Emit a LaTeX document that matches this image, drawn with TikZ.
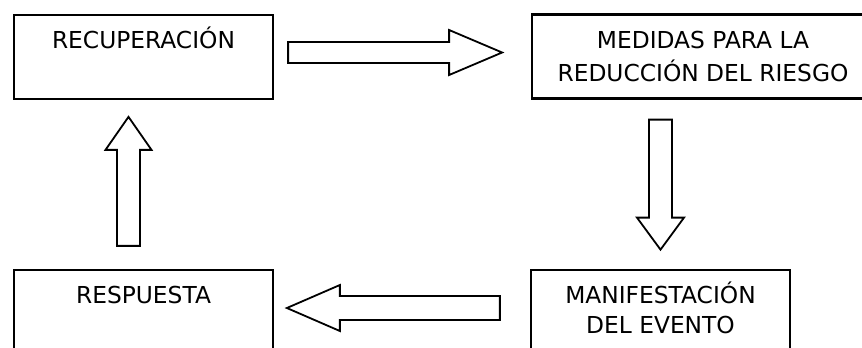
\documentclass[tikz,border=0pt]{standalone}
\usepackage{fontspec}
\setmainfont{DejaVu Sans}
\usepackage{tikz}
\usetikzlibrary{positioning,calc}

% block arrow: local frame, pointing along +x
\newcommand{\blockarrow}[4]{%
  (0,-#3) -- (#1-#2,-#3) -- (#1-#2,-#4) -- (#1,0) -- (#1-#2,#4) -- (#1-#2,#3) -- (0,#3) -- cycle}

\begin{document}
\begin{tikzpicture}[x=0.75pt,y=-0.75pt,
  stage/.style={rectangle,draw=black,line width=1.7pt,fill=white,
    minimum height=63pt,inner sep=0pt},
  lbl/.style={inner sep=0pt,align=center,anchor=base,
    font=\fontsize{17.5}{24.75}\selectfont},
  blockarrow/.style={draw=black,line width=1.35pt,fill=white,line join=miter}]
\useasboundingbox (0,0) rectangle (862,347);
\clip (0,0) rectangle (862,347);
% the four stages of the cycle
\node[stage,minimum width=194.25pt] (rec) at (143.5,57) {};
\node[stage,minimum width=256.5pt] (med) at (703,56.5) {};
\node[stage,minimum width=194.25pt] (res) at (143.5,312) {};
\node[stage,minimum width=194.25pt] (man) at (660.5,312) {};
% texts sit near the top of each box (base = last line)
\node[lbl] (recl) at ($(rec.north)+(0,35)$) {RECUPERACIÓN};
\node[lbl] (medl) at ($(med.north)+(0,68)$) {MEDIDAS PARA LA\\REDUCCIÓN DEL RIESGO};
\node[lbl] (resl) at ($(res.north)+(0,35)$) {RESPUESTA};
\node[lbl,font=\fontsize{17.5}{22.5}\selectfont] (manl) at ($(man.north)+(0,65)$)
  {MANIFESTACIÓN\\DEL EVENTO};
% tails of the block arrows
\coordinate (a1) at ($(rec.east)+(14,-4.5)$);
\coordinate (a2) at ($(med.south)+(-42.5,20)$);
\coordinate (a3) at ($(man.west)+(-30,-4)$);
\coordinate (a4) at ($(res.north)+(-15,-23)$);
% tail/angle/length/head length/shaft half/head half
\foreach \c/\a/\l/\h/\w/\k in {a1/0/214/53/10.5/22.5, a2/-90/130/32/11.5/23.5,
    a3/180/213/53/12/23, a4/90/129/33/11.5/23}{
  \draw[blockarrow,shift={(\c)},rotate=\a] \blockarrow{\l}{\h}{\w}{\k};}
\end{tikzpicture}
\end{document}
